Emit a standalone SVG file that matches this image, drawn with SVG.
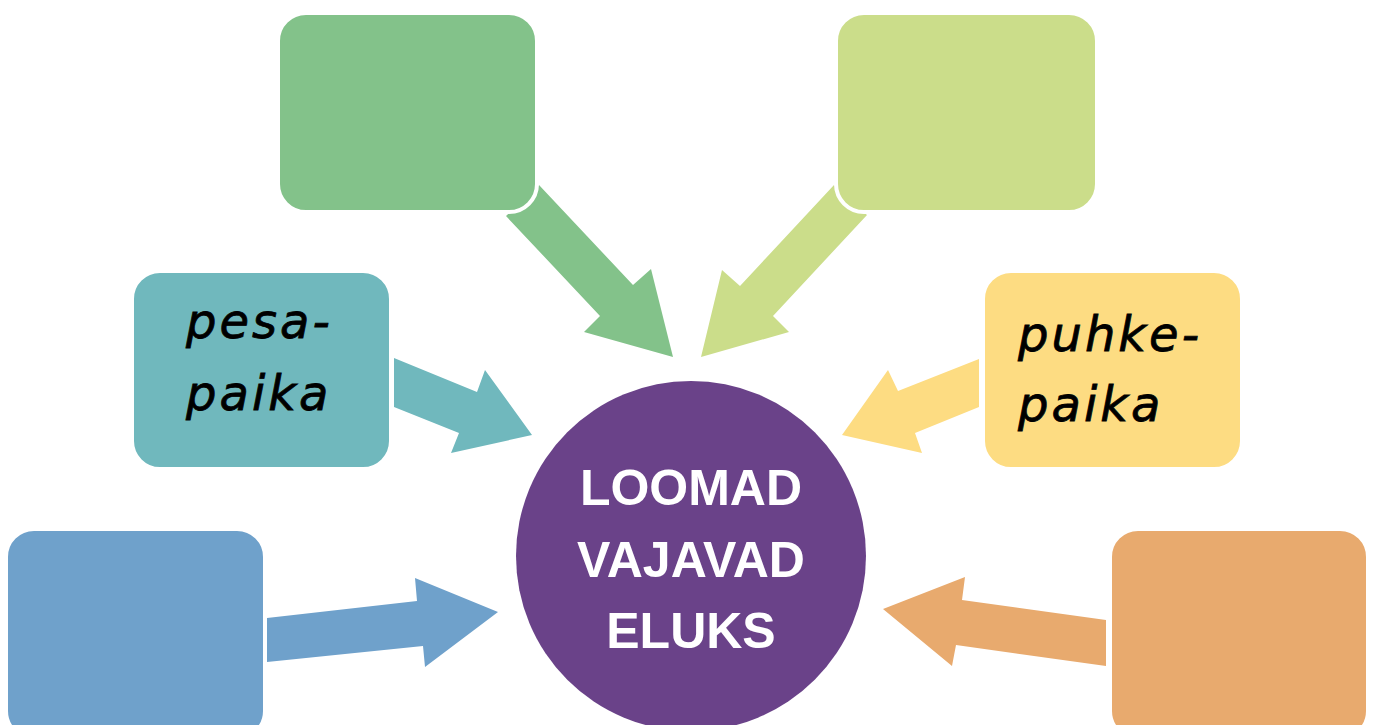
<svg xmlns="http://www.w3.org/2000/svg" width="1376" height="725" viewBox="0 0 1376 725">
<style>
.box{stroke:#fff;stroke-width:4}
.lbl{font-family:"DejaVu Sans",sans-serif;font-style:oblique;font-size:48px;fill:#000;stroke:#000;stroke-width:0.8;letter-spacing:3px}
.ctr{font-family:"Liberation Sans",Arial,sans-serif;font-weight:bold;font-size:50px;fill:#fff;text-anchor:middle}
</style>
<rect width="1376" height="725" fill="#fff"/>
<g id="connectors">
<polygon fill="#83C28A" points="506,216 539,185 633,285 651,269 673,357 584,332 600,316"/>
<polygon fill="#CBDD8A" points="867,215 834,185 740,286 722,270 701,357 789,332 773,316"/>
<polygon fill="#70B8BD" points="394,358 394,407 459,433 451,453 532,435 485,370 477,392"/>
<polygon fill="#FDDC82" points="979,359 979,407 915,433 922,453 842,435 888,370 898,391"/>
<polygon fill="#6FA1CB" points="267,618 267,662 423,646 425,667 498,612 415,578 417,601"/>
<polygon fill="#E8AA6E" points="1106,620 1106,666 956,645 952,666 883,609 965,577 962,600"/>
</g>
<g id="box-top-left"><rect class="box" x="278" y="13" width="259" height="199" rx="28" fill="#83C28A"/></g>
<g id="box-top-right"><rect class="box" x="836" y="13" width="261" height="199" rx="28" fill="#CBDD8A"/></g>
<g id="box-pesapaika"><rect class="box" x="132" y="271" width="259" height="198" rx="28" fill="#70B8BD"/>
<text class="lbl" x="186" y="338">pesa-</text><text class="lbl" x="186" y="410">paika</text></g>
<g id="box-puhkepaika"><rect class="box" x="983" y="271" width="259" height="198" rx="28" fill="#FDDC82"/>
<text class="lbl" x="1018" y="351">puhke-</text><text class="lbl" x="1018" y="421">paika</text></g>
<g id="box-bottom-left"><rect class="box" x="6" y="529" width="259" height="210" rx="28" fill="#6FA1CB"/></g>
<g id="box-bottom-right"><rect class="box" x="1110" y="529" width="258" height="210" rx="28" fill="#E8AA6E"/></g>
<g id="center">
<circle cx="691" cy="556" r="175" fill="#6A4289"/>
<text class="ctr" x="691" y="505">LOOMAD</text>
<text class="ctr" x="691" y="577">VAJAVAD</text>
<text class="ctr" x="691" y="648">ELUKS</text>
</g>
</svg>
